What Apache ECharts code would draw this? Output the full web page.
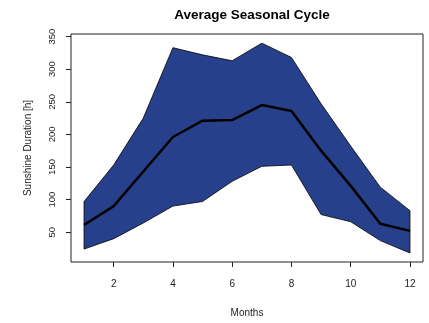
<!DOCTYPE html>
<html>
<head>
<meta charset="utf-8">
<script src="https://cdn.jsdelivr.net/npm/echarts@6/dist/echarts.min.js"></script>
<style>html,body{margin:0;padding:0;background:#fff;}#c{width:429px;height:323px;}</style>
</head>
<body>
<div id="c"></div>
<script>
var months = [1, 2, 3, 4, 5, 6, 7, 8, 9, 10, 11, 12];
var upper = [97, 153, 225, 333, 322, 313, 340, 318, 247, 182, 119, 83];
var meanVals = [61, 90, 143, 196, 221, 222, 245, 236, 175, 121, 63, 52];
var lower = [24, 40, 64, 90, 97, 128, 151, 153, 77, 66, 37, 18];
var xTicks = [2, 4, 6, 8, 10, 12];
var yTicks = [50, 100, 150, 200, 250, 300, 350];

var FONT = 'Liberation Sans, Arial, sans-serif';
var chart = echarts.init(document.getElementById('c'), null, {renderer: 'canvas'});
var option = {
  animation: false,
  backgroundColor: '#fff',
  title: {
    text: 'Average Seasonal Cycle',
    left: 247, top: 3, textAlign: 'center',
    textStyle: {fontFamily: FONT, fontSize: 13.5, fontWeight: 'bold', color: '#000'}
  },
  grid: {left: 71, right: 6, top: 34, bottom: 52, show: true, borderColor: '#222', borderWidth: 1, backgroundColor: 'transparent'},
  xAxis: {
    type: 'value', min: 0.56, max: 12.44,
    name: 'Months', nameLocation: 'middle', nameGap: 46,
    nameTextStyle: {fontFamily: FONT, fontSize: 10, color: '#222'},
    axisLine: {show: false},
    splitLine: {show: false},
    axisTick: {show: true, customValues: xTicks, length: 5, lineStyle: {color: '#222'}},
    axisLabel: {customValues: xTicks, margin: 17, fontFamily: FONT, fontSize: 10, color: '#222'}
  },
  yAxis: {
    type: 'value', min: 4.2, max: 354,
    name: 'Sunshine Duration [h]', nameLocation: 'middle', nameGap: 38, nameRotate: 90,
    nameTextStyle: {fontFamily: FONT, fontSize: 10, color: '#222'},
    axisLine: {show: false},
    splitLine: {show: false},
    axisTick: {show: true, customValues: yTicks, length: 5, lineStyle: {color: '#222'}},
    axisLabel: {customValues: yTicks, rotate: 90, margin: 14, fontFamily: FONT, fontSize: 9.5, color: '#222'}
  },
  series: [
    {
      type: 'custom',
      data: [[0]],
      renderItem: function (params, api) {
        var pts = [];
        for (var i = 0; i < months.length; i++) pts.push(api.coord([months[i], upper[i]]));
        for (var j = months.length - 1; j >= 0; j--) pts.push(api.coord([months[j], lower[j]]));
        return {type: 'polygon', shape: {points: pts}, style: {fill: '#27408B', stroke: '#000', lineWidth: 0.8}};
      },
      z: 1
    },
    {
      type: 'line',
      data: months.map(function (m, i) { return [m, meanVals[i]]; }),
      showSymbol: false,
      lineStyle: {color: '#000', width: 2.5},
      z: 3
    }
  ]
};
chart.setOption(option);
</script>
</body>
</html>
